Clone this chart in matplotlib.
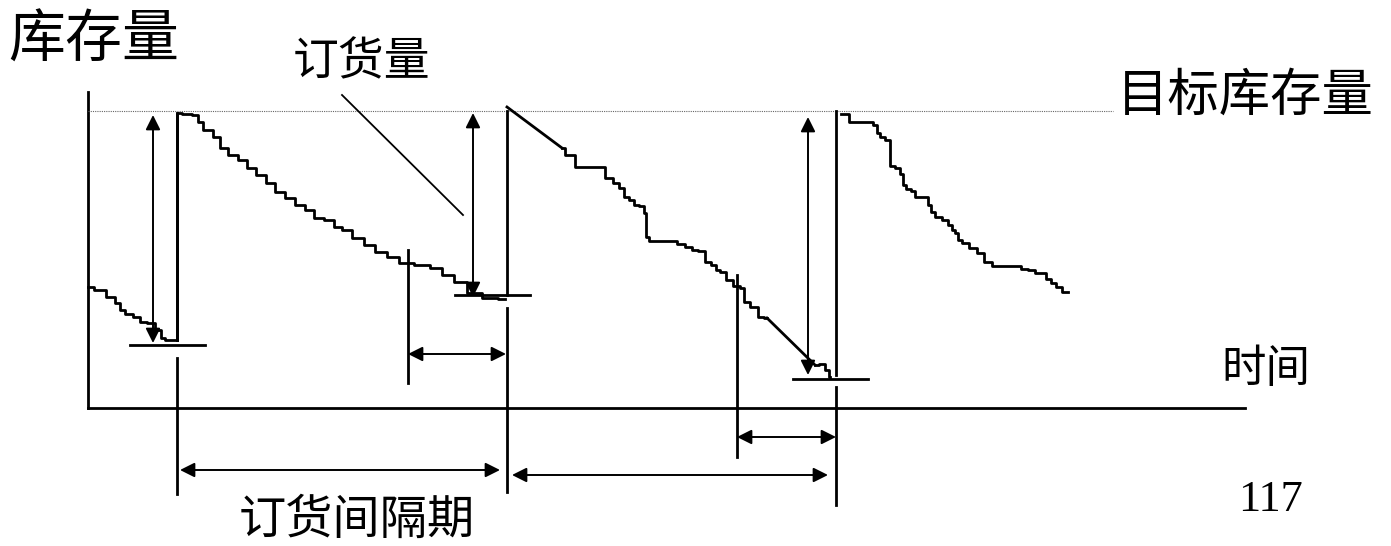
import matplotlib
matplotlib.use('Agg')
import matplotlib.pyplot as plt

plt.rcParams['font.family'] = ['Noto Sans CJK SC', 'DejaVu Sans']

# inventory curves (pixel-like diagram units, y grows downward)
c0_x = [88, 100, 112, 117, 122, 128, 138, 142, 152, 158, 163, 167, 177]
c0_y = [287, 290, 297, 303, 310, 314, 317, 322, 323, 330, 338, 340, 340]

c1_x = [177, 177, 187, 197, 198, 208, 217, 223, 233, 243, 250, 262, 270, 280, 290, 300, 310,
        318, 330, 337, 347, 357, 370, 380, 393, 405, 423, 437, 447, 460, 473, 490, 505]
c1_y = [340, 113, 114, 115, 122, 130, 137, 148, 155, 160, 168, 175, 183, 192, 198, 205, 210,
        218, 220, 227, 230, 238, 245, 252, 257, 263, 265, 268, 275, 282, 293, 298, 299]

c2_x = [507, 562, 568, 582, 600, 610, 615, 623, 625, 633, 635, 642, 645, 646, 652, 673, 680,
        690, 693, 702, 707, 715, 717, 723, 728, 737, 742, 745, 755, 760, 767, 815, 822, 827, 830]
c2_y = [107, 148, 155, 167, 167, 178, 183, 188, 197, 200, 205, 206, 213, 237, 241, 241, 244,
        247, 250, 251, 262, 265, 270, 272, 280, 286, 288, 302, 307, 317, 318, 365, 364, 370, 377]

c3_x = [841, 857, 870, 875, 878, 882, 888, 892, 898, 902, 903, 908, 913, 917, 925, 930, 932,
        938, 945, 950, 953, 957, 959, 965, 973, 980, 987, 997, 1018, 1023, 1033, 1037, 1043,
        1048, 1053, 1058, 1065, 1068]
c3_y = [114, 122, 122, 125, 133, 137, 140, 166, 168, 174, 185, 189, 191, 197, 197, 205, 212,
        217, 220, 225, 230, 233, 240, 243, 248, 253, 262, 266, 266, 269, 270, 273, 273,
        279, 283, 287, 292, 292]

target_level = 111
axis_x, axis_y = 88, 408

# order moments: vertical lines (x, top, gap_start, gap_end, bottom)
order_lines = [(177, 113, 340, 358, 494), (507, 111, 295, 308, 492), (836, 111, 375, 387, 505)]
reorder_marks = [(408, 250, 383), (737, 275, 457)]
reorder_bars = [(130, 205, 345), (455, 530, 295), (793, 868, 379)]
order_qty_arrows = [(153, 115, 343), (473, 113, 297), (808, 117, 375)]
lead_arrows = [(408, 506, 354), (737, 836, 437)]
interval_arrows = [(180, 500, 470), (512, 828, 475)]

fig = plt.figure(figsize=(13.91, 5.46), dpi=100)
ax = fig.add_axes([0, 0, 1, 1])
ax.set_xlim(0, 1391)
ax.set_ylim(546, 0)
ax.axis('off')

lw = 2.0
# axes
ax.plot([axis_x, axis_x], [92, axis_y], color='k', lw=lw)
ax.plot([axis_x, 1245], [axis_y, axis_y], color='k', lw=lw)
# target line
ax.plot([axis_x, 1113], [target_level, target_level], color='#666666', lw=0.8, ls=(0, (1, 1)))

# stepped look of the usage curves
ax.plot(c0_x, c0_y, color='k', lw=lw, drawstyle='steps-mid')
ax.plot(c1_x, c1_y, color='k', lw=lw, drawstyle='steps-mid')
ax.plot(c2_x[:2], c2_y[:2], color='k', lw=lw)
ax.plot(c2_x[1:31], c2_y[1:31], color='k', lw=lw, drawstyle='steps-mid')
ax.plot(c2_x[30:32], c2_y[30:32], color='k', lw=lw)
ax.plot(c2_x[31:], c2_y[31:], color='k', lw=lw, drawstyle='steps-mid')
ax.plot(c3_x, c3_y, color='k', lw=lw, drawstyle='steps-mid')

for x, top, g0, g1, bot in order_lines:
    ax.plot([x, x], [top, g0], color='k', lw=lw)
    ax.plot([x, x], [g1, bot], color='k', lw=lw)
for x, top, bot in reorder_marks:
    ax.plot([x, x], [top, bot], color='k', lw=lw)
for x0, x1, y in reorder_bars:
    ax.plot([x0, x1], [y, y], color='k', lw=lw)

arrow = dict(arrowstyle='<|-|>', mutation_scale=22, lw=1.4, color='k', shrinkA=0, shrinkB=0)
for x, y0, y1 in order_qty_arrows:
    ax.annotate('', xy=(x, y0), xytext=(x, y1), arrowprops=arrow)
for x0, x1, y in lead_arrows + interval_arrows:
    ax.annotate('', xy=(x0, y), xytext=(x1, y), arrowprops=arrow)

# leader line for order quantity label
ax.plot([342, 463], [95, 215], color='k', lw=1.3)

ax.text(8, 40, '库存量', fontsize=41, va='center', ha='left')
ax.text(361, 62, '订货量', fontsize=33, va='center', ha='center')
ax.text(1245, 96, '目标库存量', fontsize=37, va='center', ha='center')
ax.text(1266, 369, '时间', fontsize=32, va='center', ha='center')
ax.text(357, 521, '订货间隔期', fontsize=34, va='center', ha='center')
ax.text(1270, 500, '117', fontsize=32, va='center', ha='center', family=['Liberation Serif'])

fig.savefig('out.png', dpi=100)
